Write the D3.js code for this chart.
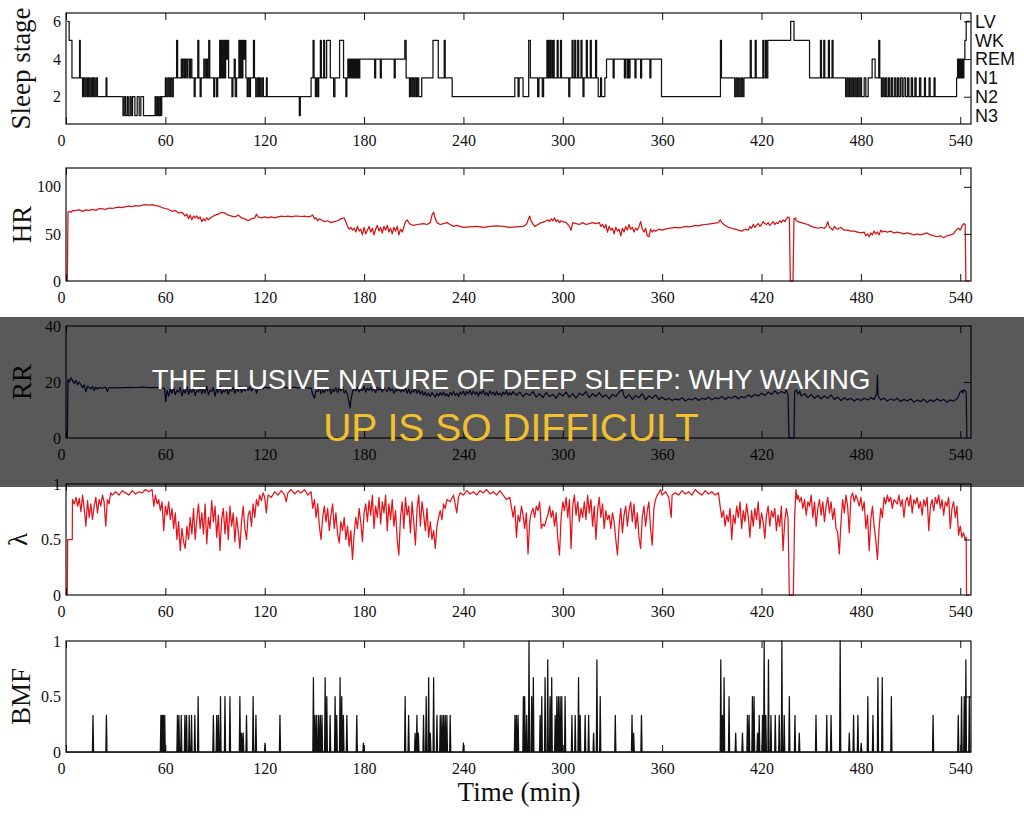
<!DOCTYPE html>
<html>
<head>
<meta charset="utf-8">
<script src="https://cdnjs.cloudflare.com/ajax/libs/d3/7.8.5/d3.min.js"></script>
<style>
  body { margin: 0; background: #fff; }
  svg { display: block; }
  .tick text { font-family: "Liberation Serif", "Times New Roman", serif; font-size: 16px; fill: #111; }
  .axlabel { font-family: "Liberation Serif", "Times New Roman", serif; font-size: 27px; fill: #111; }
</style>
</head>
<body>
<div id="chart"></div>
<script>
// x axis: time in minutes
var timeTicks = [0, 60, 120, 180, 240, 300, 360, 420, 480, 540];
var timeMax = 546.5;

// sleep stage labels for stage values 1..6
var stageNames = ["N3", "N2", "N1", "REM", "WK", "LV"];

// sleep stage hypnogram: [minute, stage] change points
var stageData = [[0.8,6],[1.9,5],[3.6,3],[8.2,5],[8.6,3],[10,2],[10.6,3],[11.4,2],[12.2,3],[13,2],[13.6,3],[14.4,2],[15.2,3],[16,2],[16.6,3],[17.4,2],[18.2,3],[19,2],[24.2,3],[24.7,2],
  [34.4,1],[35.2,2],[36,1],[37,2],[37.6,1],[38.6,2],[39.4,1],[40.2,2],[41.6,1],[43,2],[44.2,1],[45.2,2],[46.8,1],[53.8,2],[54.4,1],[55.2,2],[55.8,1],[56.6,2],[57.2,1],[57.8,2],
  [60,3],[60.8,2],[61.6,3],[62.4,2],[63.2,3],[64,2],[64.8,3],[66.8,5],[67.4,3],[69.6,4],[70.2,3],[70.8,4],[71.6,3],[72.2,4],[73,3],[73.6,4],[74.6,3],[75.2,4],[76,3],[77.4,2],[78,3],[79.6,5],[80.2,3],[81,2],[81.6,3],
  [83.2,4],[84,3],[84.8,4],[85.4,3],[86.2,5],[86.8,3],[89.2,2],[89.8,3],[91,2],[91.6,3],[92.8,5],[93.4,3],[94,5],[94.6,3],[95.2,5],[95.8,3],[96.4,5],[97,4],[97.6,5],[98.2,3],[100.2,2],[100.8,3],[101.6,4],[102.2,2],[103,3],
  [104.4,5],[105,3],[105.6,5],[106.2,3],[106.8,5],[107.4,4],[108,5],[108.6,3],[109.4,2],[110,3],[110.8,2],[111.4,3],[113.2,5],[113.8,3],[114.6,2],[115.4,3],[116.2,2],[116.8,3],[117.6,2],[118.4,3],[119.2,2],[121,3],[121.5,2],
  [140.9,1],[141.5,2],[148,3],[149.2,5],[149.8,3],[150.6,2],[151.2,3],[152,2],[152.6,3],[153.6,5],[154.2,3],[155.6,5],[156.2,3],[157.4,5],[159.6,3],[161.6,2],[162.4,3],[165.2,5],[167.6,3],[169,2],[169.6,3],
  [170.2,4],[170.8,3],[171.4,4],[172,3],[172.6,4],[173.2,3],[173.8,4],[174.4,3],[175,4],[175.6,3],[176.2,4],[176.8,3],[177.4,4],[186.4,3],[187,4],[189.8,3],[190.4,4],[198.2,3],[198.8,4],
  [204.6,5],[205.4,3],[207.4,2],[208,3],[208.8,2],[209.4,3],[210.2,2],[210.8,3],[211.6,2],[212.2,3],[213,2],[214.8,3],[221.6,5],[224.8,3],[228.4,5],[229,3],[233.2,2],
  [271,3],[273,2],[273.6,3],[276,2],[279.4,5],[280.4,3],[284.8,2],[285.6,3],[287.6,2],[288.4,3],[290.4,5],[291,3],[291.6,5],[292.2,3],[292.8,5],[293.6,3],[294.2,5],[294.8,3],[296.6,5],[297.2,3],[298.6,5],[299.2,3],
  [303.6,2],[304.2,3],[305.6,5],[306.2,3],[307.2,5],[307.8,3],[309,5],[309.6,3],[311,5],[311.6,3],[312.2,2],[312.8,3],[314.2,5],[314.8,3],[316.6,5],[317.2,3],[319.8,5],[320.4,3],[321.4,2],[322.8,3],[323.4,2],[325.4,3],[326.4,4],
  [330.4,3],[331,4],[337.2,3],[337.8,4],[338.8,3],[339.4,4],[340,3],[340.6,4],[343.6,3],[344.2,4],[347,3],[347.6,4],[352.6,3],[353.2,4],[359.6,2],
  [395.2,5],[395.8,3],[403.8,2],[404.6,3],[405.4,2],[406.2,3],[407,2],[407.8,3],[408.6,2],[409.4,3],[413.2,5],[413.8,3],[416.2,5],[416.8,3],[420.8,5],[421.4,3],[422.4,5],[423,3],[423.8,5],[437.6,6],[439.6,5],
  [449,3],[455.6,5],[456.2,3],[457.6,5],[458.2,3],[460.4,5],[461,3],[462.6,5],[463.2,3],[470.8,2],[471.6,3],[472.4,2],[473.2,3],[474,2],[474.8,3],[475.6,2],[476.4,3],[477.2,2],[478,3],[478.8,2],[479.6,3],[480.4,2],[482,3],[483,2],[484.4,3],
  [486.8,4],[488.6,3],[490.8,5],[491.4,3],[492.4,2],[493.2,3],[494,2],[494.8,3],[495.6,2],[496.6,3],[497.4,2],[498.4,3],[499.2,2],[500.4,3],[501.2,2],[502.2,3],[503,2],[504,3],[505,2],[506,3],[507,2],[508.2,3],[509,2],[510.4,3],[511.2,2],
  [512.6,3],[513.4,2],[515.4,3],[516.2,2],[518.4,3],[519,2],[521.2,3],[521.8,2],[524.2,3],[524.8,2],[537.8,3],[538.4,4],[539,3],[539.4,4],[539.8,3],[540.2,4],[540.8,3],[541.2,4],[541.8,3],[542.2,4],[542.8,5],[543.6,6],[545.8,6]];

// heart rate (bpm): [minute, value]
var hrData = [[0.8,0],[1.2,73],[2,74],[3,73],[4,75],[5,74.5],[6,75],[8,75.5],[10,74],[12,75.5],[14,75],[16,76],[18,75],[20,77],[22,76.5],[24,76],[26,77.5],[28,77],[30,78],[32,78.5],[34,78],[36,79],[38,79.5],[40,79],[42,80],[44,79.5],[46,80.5],[48,81],[50,80.5],[52,81],[54,80],[56,79.5],[58,78],
  [60,77],[62,76],[64,74],[66,75],[68,72],[70,73],[72,69],[73,71],[74,66],[75,70],[76,65],[77,69],[78,67],[79,69],[80,66],[81,68],[82,63],[83,66],[84,64],[85,67],[86,65],[88,68],[90,70],[92,71],[94,73],[96,72],[98,70],
  [100,69],[102,68],[104,70],[106,67],[108,66],[110,64],[112,66],[114,67],[115,71],[116,68],[118,67],[120,68],[122,67],[124,68],[126,67],[128,68],[130,69],[132,68.5],[134,69],[136,68],[138,69],[140,69],[142,68.5],[144,69],[146,68],[148,69],
  [149,70],[150,66],[151,67],[152,64],[153,66],[154,65],[156,63],[158,64],[160,62],[162,63],[164,64],[166,66],[168,67],[169,63],[170,58],[171,55],[172,57],[173,54],[174,56],[175,52],[176,58],[177,53],[178,55],[179,49],
  [180,57],[181,50],[182,54],[183,58],[184,52],[185,56],[186,49],[187,55],[188,59],[189,53],[190,57],[191,51],[192,58],[193,54],[194,59],[195,52],[196,56],[197,50],[198,57],[199,53],[200,58],[201,49],[202,55],[203,52],[204,57],
  [205,63],[206,65],[207,62],[208,60],[210,59],[212,60],[214,60.5],[216,61],[218,60],[220,62],[221,70],[222,73],[223,66],[224,62],[226,60],[228,61],[230,62],[232,60],[234,58],[236,59],[238,58],[240,57],[244,57.5],[248,58],[252,57],[256,58],[260,58.5],[264,58],[268,57],[272,57.5],[276,58],[278,60],
  [280,69],[281,63],[283,58],[285,60],[287,62],[289,63],[291,65],[292,63],[293,66],[294,64],[295,67],[296,63],[297,65],[298,62],[299,64],[300,63],[302,62],[304,58],[305,54],[306,62],[308,61],[310,60],[312,62],[314,60],[316,61],[318,62],[320,61],[322,62],[323,58],[324,60],[325,56],
  [326,60],[327,52],[328,58],[329,54],[330,56],[331,50],[332,57],[333,53],[334,55],[335,48],[336,56],[337,52],[338,58],[339,54],[340,60],[341,55],[342,57],[343,52],[344,56],[345,54],[346,58],[347,63],[348,55],[349,52],[350,56],[351,48],[352,47],[353,55],[354,52],[355,54],[356,53],[358,55],
  [360,54],[362,55],[364,56],[366,56.5],[368,57],[370,56.5],[372,57],[374,58],[376,57.5],[378,58],[380,59],[382,58.5],[384,59.5],[386,60],[388,60.5],[390,61],[392,61.5],[394,62],[395,65],[396,62],[398,59],[400,57],[402,56],[404,55],[406,54],[408,53],[410,55],[412,54],[413,58],[414,56],[415,60],[416,57],[417,59],[418,61],[419,58],
  [420,60],[421,63],[422,61],[423,60],[424,62],[425,59],[426,61],[427,63],[428,60],[429,62],[430,61],[431,64],[432,62],[433,65],[434,63],[435,66],[436,68],[436.8,67],[437.4,0],[439,0],[439.6,66],[440.5,67],[441,64],[442,63],[444,62],[446,61],[448,60],[450,58],[452,57],[454,56],[456,57],[458,56],[459,58],[460,63],[461,57],[462,56],[463,54],[464,58],[465,56],[466,55],[467,56],[468,57],[469,55],
  [470,54],[472,54],[474,53],[476,53],[478,52],[480,51],[482,52],[483,48],[484,50],[485,47],[486,51],[487,49],[488,53],[489,50],[490,52],[491,49],[492,54],[493,52],[494,53],[496,52],[498,53],[500,51],[502,52],[504,51],[506,50],[508,51],[510,50],[512,49],[514,50],[516,49],[518,50],[520,51],[522,49],[524,48],[526,47],[528,48],[530,46],[532,48],[534,49],[536,50],[537,53],[538,55],[539,56],[540,54],[541,58],[542,61],[543,60],[543.4,0],[545.6,0]];

// respiration rate: [minute, value]
var rrData = [[0.8,0],[1.2,21],[2,20],[3,21.5],[4,20.5],[5,19.5],[6,20.5],[7,19],[8,20],[9,19],[10,18],[11,19],[12,16.5],[13,18.5],[14,18],[15,17.5],[16,18.5],[17,17],[18,18.2],[19,17.5],[20,18],[22,17.8],[24,18.2],[25,16.6],[26,18],[28,18],[30,17.9],[34,18],[38,18.1],[42,18],[46,18.2],[50,18],[54,18.1],[58,17.9],[59.5,17.6],
  [60.2,13],[61,17],[62,15],[63,17.5],[64,16],[65,18],[66,15.5],[67,17],[68,16.4],[69,18],[70,15],[71,17.2],[72,16],[73,18.4],[74,15.6],[75,17.4],[76,16.2],[77,18],[78,15.2],[79,17],[80,16.4],[81,18.2],[82,15.8],[83,17.6],[84,16],[85,18.4],[86,15.4],[87,17.2],[88,16.6],[89,18],
  [90,15],[91,17.6],[92,16.2],[93,18.6],[94,15.8],[95,17],[96,16.4],[97,18.2],[98,15.6],[99,17.4],[100,16.8],[101,18],[102,16],[103,17.6],[104,16.6],[105,18.4],[106,16.2],[107,17.8],[108,16.8],[109,18.2],[110,17],[111,18.4],[112,16.8],[113,17.6],[114,18.6],[115,16],[116,18],[117,17.4],[118,18.4],[119,17.6],
  [120,18.2],[122,17.8],[124,18.2],[126,17.6],[128,18],[130,17.9],[132,18.2],[134,17.8],[136,18],[138,18.2],[140,17.8],[142,18],[144,18.2],[146,17.8],[148,17.9],[149,15.5],[150,14.2],[151,17],[152,16.6],[153,18],[154,15.8],[155,17.2],[156,16.2],[157,17.6],[158,16.8],[159,18.2],
  [160,15.8],[161,17.4],[162,16.6],[163,18],[164,16.2],[165,17.8],[166,16.8],[167,18.4],[168,16],[169,17],[170,15.4],[171,12.5],[171.6,10.7],[172,13.5],[173,16.4],[174,17.8],[175,16.8],[176,18.2],[177,16.4],[178,17.6],[179,17],
  [180,18.4],[181,16.4],[182,17.8],[183,17],[184,18],[185,16.8],[186,17.6],[187,16.2],[188,18.2],[189,17],[190,17.8],[191,16.4],[192,18],[193,17.2],[194,16.6],[195,18],[196,16.8],[197,17.6],[198,16],[199,17.4],[200,16.8],[201,18],[202,16.4],[203,17.2],[204,16.6],[205,18],[206,16],[207,17.4],[208,15.8],[209,17.2],
  [210,16.4],[211,17.8],[212,16],[213,17.2],[214,15.6],[215,16.8],[216,15.2],[217,16.4],[218,15],[219,16],[220,14.8],[221,16.2],[222,15.4],[223,14.6],[224,16],[225,15],[226,16.2],[227,15.2],[228,16.4],[229,15],[230,15.8],[231,14.8],[232,16.2],[233,15.4],[234,16.6],[235,15.2],[236,16],[237,14.8],[238,16.4],[239,15.6],
  [240,16.8],[241,15.2],[242,16.6],[243,15.8],[244,17],[245,15.4],[246,16.8],[247,15.6],[248,16.4],[249,15],[250,16.6],[251,15.8],[252,17],[253,15.4],[254,16.2],[255,15],[256,16.8],[257,15.6],[258,16.4],[259,15.2],[260,16.6],[261,15.4],[262,16],[263,15],[264,16.4],[265,15.6],[266,16.8],[267,15.2],[268,16.2],[269,15.4],
  [270,16.6],[272,15.2],[274,16.4],[276,14.8],[278,16],[280,15.2],[282,16.6],[284,14.6],[286,15.8],[288,14.4],[290,16.2],[292,14.8],[294,15.6],[296,14.2],[298,16],[300,15],[302,16.4],[304,14.6],[306,15.8],[308,14.2],[310,16],[312,15.2],[314,16.6],[316,14.4],[318,15.8],[320,14.8],[322,16.2],[324,14.6],[326,15.4],[328,14],
  [330,15.6],[332,14.8],[334,16.4],[336,17.2],[337,15],[338,14.2],[340,15.6],[342,13.8],[344,15.2],[346,14.4],[348,15.8],[350,13.6],[352,15],[354,14.2],[356,15.4],[358,13.8],[360,14.6],[362,13.6],[364,14.2],[366,13.4],[368,14],[370,13.6],[372,14.4],[374,13.2],[376,14],[378,13.6],[380,14.4],[382,13.4],[384,14.2],[386,13.8],
  [388,14.6],[390,13.6],[392,14.4],[394,14],[396,14.8],[398,13.8],[400,14.6],[402,14.2],[404,15],[406,14],[408,14.8],[410,14.4],[412,15.4],[414,14.6],[416,15.6],[418,15],[420,16],[422,15.2],[424,16.4],[426,15.6],[428,16.8],[430,15.8],[432,16.6],[434,16],[435,17],[436,15.4],[436.6,0],[439.6,0],[440,16.6],[441,17.2],
  [442,15.6],[443,16.8],[444,15],[446,15.8],[448,14.4],[450,15.6],[452,14.2],[454,15.2],[456,14],[458,15],[460,14.2],[462,15.4],[464,13.8],[466,14.6],[468,13.4],[470,14.4],[472,13.6],[474,14.2],[476,13.2],[478,14],[480,13.4],[482,14.2],[484,13.6],[486,14.4],[488,13.8],[489.6,16],[490,22.5],[490.4,15],[492,13.6],
  [494,14.2],[496,13.2],[498,14],[500,13.4],[502,14.2],[504,13],[506,13.8],[508,13.2],[510,14],[512,12.8],[514,13.6],[516,13],[518,13.8],[520,12.8],[522,13.6],[524,13],[526,14],[528,13.2],[530,13.8],[532,12.8],[534,13.6],[536,13.2],[538,14],[539,15],[540,16.4],[541,17],[541.6,16],[542,17.2],[543,16.8],[543.6,16.5],[544,0]];

// lambda: [minute, value]
var lambdaData = [[0.8,0],[1,0.5],[3.8,0.5],[3.9,0.86],[5,0.82],[6,0.88],[7,0.8],[8,0.87],[9,0.75],[10,0.9],[11,0.78],[12,0.62],[13,0.85],[14,0.7],[15,0.82],[16,0.68],[17,0.8],[18,0.88],[19,0.74],[20,0.86],[21,0.8],[22,0.9],[23,0.84],[24,0.62],[25,0.86],[26,0.82],[27,0.92],[28,0.9],
  [30,0.93],[32,0.9],[34,0.94],[36,0.92],[38,0.9],[40,0.94],[42,0.91],[44,0.93],[46,0.92],[48,0.95],[50,0.93],[52,0.95],[53,0.8],[54,0.9],[55,0.82],[56,0.86],[57,0.76],[58,0.84],[59,0.58],
  [60,0.8],[61,0.72],[62,0.84],[63,0.68],[64,0.78],[65,0.6],[66,0.74],[67,0.5],[68,0.66],[69,0.4],[70,0.6],[71,0.48],[72,0.42],[73,0.62],[74,0.5],[75,0.7],[76,0.55],[77,0.78],[78,0.5],[79,0.68],[80,0.82],[81,0.6],[82,0.74],[83,0.55],[84,0.82],[85,0.46],[86,0.7],[87,0.6],[88,0.85],[89,0.66],
  [90,0.8],[91,0.52],[92,0.72],[93,0.4],[94,0.68],[95,0.78],[96,0.55],[97,0.75],[98,0.5],[99,0.8],[100,0.62],[101,0.74],[102,0.48],[103,0.7],[104,0.58],[105,0.42],[106,0.66],[107,0.8],[108,0.6],[109,0.5],[110,0.72],[111,0.76],[112,0.62],[113,0.82],[114,0.7],[115,0.86],[116,0.8],[117,0.9],[118,0.85],[119,0.92],
  [120,0.88],[121,0.74],[122,0.9],[124,0.88],[126,0.93],[128,0.9],[130,0.94],[132,0.9],[133,0.84],[134,0.92],[136,0.95],[138,0.91],[140,0.94],[142,0.92],[144,0.95],[146,0.9],[148,0.93],[149,0.78],[150,0.86],[151,0.7],[152,0.82],[153,0.62],[154,0.5],[155,0.7],[156,0.8],[157,0.66],[158,0.78],[159,0.58],
  [160,0.72],[161,0.82],[162,0.6],[163,0.74],[164,0.55],[165,0.47],[166,0.66],[167,0.58],[168,0.7],[169,0.5],[170,0.62],[171,0.44],[172,0.58],[173,0.32],[174,0.55],[175,0.7],[176,0.6],[177,0.78],[178,0.66],[179,0.48],
  [180,0.74],[181,0.82],[182,0.66],[183,0.85],[184,0.72],[185,0.9],[186,0.6],[187,0.8],[188,0.7],[189,0.88],[190,0.64],[191,0.84],[192,0.74],[193,0.9],[194,0.58],[195,0.82],[196,0.68],[197,0.86],[198,0.62],[199,0.76],[200,0.5],[201,0.36],[202,0.7],[203,0.84],[204,0.6],[205,0.88],[206,0.72],[207,0.8],[208,0.56],[209,0.84],
  [210,0.66],[211,0.45],[212,0.78],[213,0.9],[214,0.62],[215,0.84],[216,0.72],[217,0.58],[218,0.78],[219,0.52],[220,0.66],[221,0.5],[222,0.58],[223,0.42],[224,0.62],[225,0.7],[226,0.76],[227,0.68],[228,0.82],[229,0.78],[230,0.86],[232,0.84],[234,0.9],[236,0.74],[237,0.88],[238,0.92],
  [240,0.9],[242,0.94],[244,0.91],[246,0.93],[248,0.9],[250,0.94],[252,0.92],[254,0.95],[256,0.91],[258,0.93],[260,0.9],[262,0.94],[264,0.9],[266,0.86],[268,0.88],[270,0.7],[271,0.8],[272,0.52],[273,0.72],[274,0.66],[275,0.8],[276,0.72],[277,0.6],[278,0.74],[279,0.37],
  [280,0.66],[281,0.74],[282,0.78],[283,0.7],[284,0.8],[285,0.76],[286,0.84],[287,0.6],[288,0.64],[289,0.62],[290,0.68],[291,0.72],[292,0.8],[293,0.7],[294,0.76],[295,0.62],[296,0.74],[297,0.5],[298,0.36],[299,0.7],
  [300,0.84],[301,0.76],[302,0.88],[303,0.7],[304,0.86],[305,0.42],[306,0.8],[307,0.9],[308,0.72],[309,0.84],[310,0.66],[311,0.78],[312,0.7],[313,0.84],[314,0.68],[315,0.9],[316,0.74],[317,0.86],[318,0.62],[319,0.8],
  [320,0.5],[321,0.76],[322,0.88],[323,0.7],[324,0.82],[325,0.6],[326,0.76],[327,0.68],[328,0.72],[329,0.6],[330,0.74],[331,0.66],[332,0.5],[333,0.36],[334,0.62],[335,0.78],[336,0.56],[337,0.72],[338,0.8],[339,0.62],
  [340,0.76],[341,0.84],[342,0.66],[343,0.82],[344,0.6],[345,0.74],[346,0.52],[347,0.42],[348,0.7],[349,0.8],[350,0.62],[351,0.76],[352,0.84],[353,0.6],[354,0.45],[355,0.78],[356,0.86],[357,0.9],[358,0.92],[359,0.95],
  [360,0.9],[362,0.93],[364,0.88],[365.5,0.7],[366,0.9],[368,0.92],[370,0.9],[372,0.94],[374,0.91],[376,0.93],[378,0.9],[380,0.95],[382,0.92],[384,0.9],[386,0.94],[388,0.91],[390,0.93],[392,0.9],[394,0.92],[395,0.8],[396,0.7],[397,0.76],[398,0.62],[399,0.72],
  [400,0.66],[401,0.78],[402,0.5],[403,0.72],[404,0.64],[405,0.8],[406,0.7],[407,0.84],[408,0.6],[409,0.76],[410,0.66],[411,0.82],[412,0.7],[413,0.52],[414,0.76],[415,0.62],[416,0.78],[417,0.68],[418,0.84],[419,0.6],
  [420,0.74],[421,0.66],[422,0.51],[423,0.72],[424,0.8],[425,0.62],[426,0.76],[427,0.7],[428,0.78],[429,0.58],[430,0.72],[431,0.62],[432,0.8],[433,0.4],[434,0.66],[435,0.78],[436,0.7],[436.8,0],[439.2,0],[440,0.7],[440.8,0.95],[441.5,0.86],[442,0.9],[443,0.84],[444,0.88],[445,0.78],[446,0.86],[447,0.72],[448,0.84],[449,0.8],
  [450,0.9],[451,0.7],[452,0.84],[453,0.62],[454,0.78],[455,0.86],[456,0.72],[457,0.84],[458,0.66],[459,0.8],[460,0.88],[461,0.74],[462,0.84],[463,0.68],[464,0.78],[465,0.6],[466,0.56],[467,0.37],[468,0.66],[469,0.86],
  [470,0.74],[471,0.9],[472,0.8],[473,0.56],[474,0.88],[475,0.92],[476,0.84],[477,0.9],[478,0.86],[479,0.8],[480,0.88],[481,0.76],[482,0.84],[483,0.6],[484,0.72],[485,0.4],[486,0.68],[487,0.8],[488,0.62],[489,0.5],[490,0.32],[491,0.6],[492,0.78],[493,0.7],[494,0.88],[495,0.82],[496,0.9],[497,0.84],[498,0.88],[499,0.78],
  [500,0.86],[502,0.82],[503,0.9],[504,0.8],[505,0.86],[506,0.7],[507,0.84],[508,0.88],[509,0.8],[510,0.9],[511,0.74],[512,0.86],[513,0.82],[514,0.88],[515,0.78],[516,0.84],[517,0.72],[518,0.86],[519,0.8],
  [520,0.88],[521,0.58],[522,0.8],[523,0.86],[524,0.76],[525,0.88],[526,0.82],[527,0.9],[528,0.78],[529,0.86],[530,0.72],[531,0.84],[532,0.8],[533,0.88],[534,0.6],[535,0.78],[536,0.84],[537,0.7],[538,0.8],[539,0.54],[540,0.62],[541,0.52],[542,0.56],[543,0.5],[543.6,0.52],[543.8,0],[545.4,0]];

// body movement fraction: spikes as [minute, value], zero elsewhere
var bmfSpikes = [[16.3,0.33],[24.4,0.33],[57.3,0.33],[58.1,0.33],[58.8,0.33],[59.6,0.33],[67.3,0.33],[68.2,0.33],[69.6,0.33],[71.8,0.33],[72.8,0.33],[74.4,0.33],[75.8,0.33],[77.8,0.33],[79.8,0.5],
  [89,0.33],[91,0.33],[92,0.33],[93.3,0.5],[96,0.5],[99,0.5],[105,0.5],[106,0.17],[107,0.17],[109,0.33],[113,0.5],[114.7,0.33],[120.2,0.08],[129.2,0.33],
  [149.4,0.67],[150.4,0.33],[151.4,0.33],[152.6,0.33],[153.6,0.33],[154.6,0.33],[156.5,0.67],[157.5,0.5],[159.5,0.33],[162.5,0.5],[163.5,0.33],[165.5,0.67],[166.5,0.5],[167.5,0.33],[169.6,0.33],[175.6,0.33],[179.6,0.08],
  [204.8,0.5],[206.9,0.33],[210.8,0.17],[211.9,0.33],[212.8,0.17],[215.9,0.33],[217.5,0.5],[219,0.67],[220,0.17],[222,0.67],[224,0.33],[226,0.33],[227,0.33],[228,0.33],[229,0.33],[230,0.33],[232,0.33],[240,0.08],
  [271.1,0.33],[272,0.33],[273,0.33],[276.2,0.5],[277,0.5],[278.2,0.33],[279.6,1],[281.2,0.5],[282.2,0.67],[286.3,0.33],[287.3,0.5],[289.3,0.67],[290.9,0.83],[292.3,0.5],[293.3,0.67],[295.4,0.33],[296.4,0.5],[297.4,0.5],[298.4,0.5],[299.4,0.5],[301.4,0.5],
  [305.5,0.33],[307.5,0.33],[309.5,0.67],[310.5,0.33],[313.5,0.33],[315.6,0.33],[318.6,0.17],[320.6,0.83],[322.6,0.5],[331.7,0.33],[341.8,0.33],[342.8,0.17],[347.5,0.33],
  [395.4,0.83],[396.4,0.33],[397.4,0.67],[400.4,0.5],[404.4,0.17],[408.5,0.17],[411.5,0.33],[412.5,0.33],[414.5,0.5],[415.5,0.5],[417.6,0.17],[418.6,0.33],[420.6,0.33],[421.6,1],[422.6,0.33],[424.2,0.83],[425.7,0.33],[428.3,0.33],[430.7,0.33],[432.3,1],[433.7,0.33],[436.8,0.5],[440.2,0.33],[442.8,0.17],
  [452.9,0.33],[459.4,0.33],[462,0.33],[467.5,1],[473,0.17],[475.6,0.33],[478.2,0.33],[480.2,0.08],[484.2,0.5],[487.3,0.33],[490.3,0.67],[492.9,0.67],[498.4,0.5],[523.6,0.33],[538.8,0.33],[540.8,0.5],[542.4,0.5],[543.4,0.83],[545.5,0.5]];

var titleLine1 = "THE ELUSIVE NATURE OF DEEP SLEEP: WHY WAKING";
var titleLine2 = "UP IS SO DIFFICULT";

var W = 1024, H = 816;
var left = 66, right = 971;

var svg = d3.select("#chart").append("svg")
  .attr("width", W)
  .attr("height", H);

var x = d3.scaleLinear().domain([0, timeMax]).range([left, right]);
var numFormat = d3.format("~g");

// turn spikes into a 0-based trace
var bmfTrace = [[0, 0]];
bmfSpikes.forEach(function (d) {
  bmfTrace.push([d[0] - 0.35, 0], [d[0], d[1]], [d[0] + 0.35, 0]);
});
bmfTrace.push([timeMax, 0]);

var panels = [
  {data: stageData, top: 13, bottom: 124, domain: [0.55, 6.45], ticks: [2, 4, 6], label: "Sleep stage", color: "#111", step: true, lx: 30},
  {data: hrData, top: 168, bottom: 281, domain: [0, 120], ticks: [0, 50, 100], label: "HR", color: "#d11414", lx: 31},
  {data: rrData, top: 326, bottom: 438, domain: [0, 40], ticks: [0, 20, 40], label: "RR", color: "#141466", lx: 31},
  {data: lambdaData, top: 484, bottom: 595, domain: [0, 1], ticks: [0, 0.5, 1], label: "λ", color: "#e3141c", lx: 27},
  {data: bmfTrace, top: 641, bottom: 752, domain: [0, 1], ticks: [0, 0.5, 1], label: "BMF", color: "#111", lx: 30}
];

panels.forEach(function (p, i) {
  var y = d3.scaleLinear().domain(p.domain).range([p.bottom, p.top]);
  var g = svg.append("g");

  var line = d3.line()
    .x(function (d) { return x(d[0]); })
    .y(function (d) { return y(d[1]); })
    .curve(p.step ? d3.curveStepAfter : d3.curveLinear);

  g.append("path")
    .datum(p.data)
    .attr("fill", "none")
    .attr("stroke", p.color)
    .attr("stroke-width", 1.25)
    .attr("stroke-linejoin", "round")
    .attr("d", line);

  // bottom axis, ticks pointing inward
  g.append("g")
    .attr("transform", "translate(0," + p.bottom + ")")
    .call(d3.axisBottom(x).tickValues(timeTicks).tickSizeInner(-7).tickSizeOuter(0).tickPadding(11))
    .call(function (a) {
      a.select(".domain").remove();
      a.select(".tick text").attr("dx", -5); // the 0 sits a bit left in the original
    });

  // top axis, ticks only
  g.append("g")
    .attr("transform", "translate(0," + p.top + ")")
    .call(d3.axisTop(x).tickValues(timeTicks).tickSizeInner(-7).tickSizeOuter(0).tickFormat(""))
    .call(function (a) { a.select(".domain").remove(); });

  // left labels
  g.append("g")
    .attr("transform", "translate(" + left + ",0)")
    .call(d3.axisLeft(y).tickValues(p.ticks).tickSize(0).tickPadding(5).tickFormat(numFormat))
    .call(function (a) { a.select(".domain").remove(); });

  // right ticks
  g.append("g")
    .attr("transform", "translate(" + right + ",0)")
    .call(d3.axisRight(y).tickValues(p.ticks.filter(function (v) { return v > p.domain[0] && v < p.domain[1]; }))
      .tickSizeInner(-7).tickSizeOuter(0).tickFormat(""))
    .call(function (a) { a.select(".domain").remove(); });

  g.selectAll(".tick line").attr("stroke", "#111");

  // frame
  g.append("rect")
    .attr("x", left).attr("y", p.top)
    .attr("width", right - left).attr("height", p.bottom - p.top)
    .attr("fill", "none").attr("stroke", "#111").attr("stroke-width", 1.2);

  g.append("text")
    .attr("class", "axlabel")
    .attr("text-anchor", "middle")
    .attr("transform", "translate(" + p.lx + "," + ((p.top + p.bottom) / 2) + ") rotate(-90)")
    .text(p.label);

  // stage names on the right of the hypnogram
  if (p.step) {
    g.append("g")
      .attr("transform", "translate(" + (right + 2) + ",0)")
      .call(d3.axisRight(y).tickValues([1, 2, 3, 4, 5, 6]).tickSize(0).tickPadding(2)
        .tickFormat(function (v) { return stageNames[v - 1]; }))
      .call(function (a) {
        a.select(".domain").remove();
        a.selectAll("text")
          .style("font-family", "'Liberation Sans', Arial, sans-serif")
          .style("font-size", "18px");
      });
  }
});

svg.append("text")
  .attr("class", "axlabel")
  .attr("x", 519)
  .attr("y", 801)
  .attr("text-anchor", "middle")
  .text("Time (min)");

// title banner over the middle
svg.append("rect")
  .attr("x", 0).attr("y", 317)
  .attr("width", W).attr("height", 170)
  .attr("fill", "#000")
  .attr("fill-opacity", 0.65);

svg.append("text")
  .attr("x", 511).attr("y", 389)
  .attr("text-anchor", "middle")
  .style("font-family", "'Liberation Sans', Arial, sans-serif")
  .style("font-size", "27.5px")
  .attr("fill", "#fff")
  .text(titleLine1);

svg.append("text")
  .attr("x", 511).attr("y", 441)
  .attr("text-anchor", "middle")
  .style("font-family", "'Liberation Sans', Arial, sans-serif")
  .style("font-size", "39px")
  .attr("fill", "#f3c02d")
  .text(titleLine2);
</script>
</body>
</html>
